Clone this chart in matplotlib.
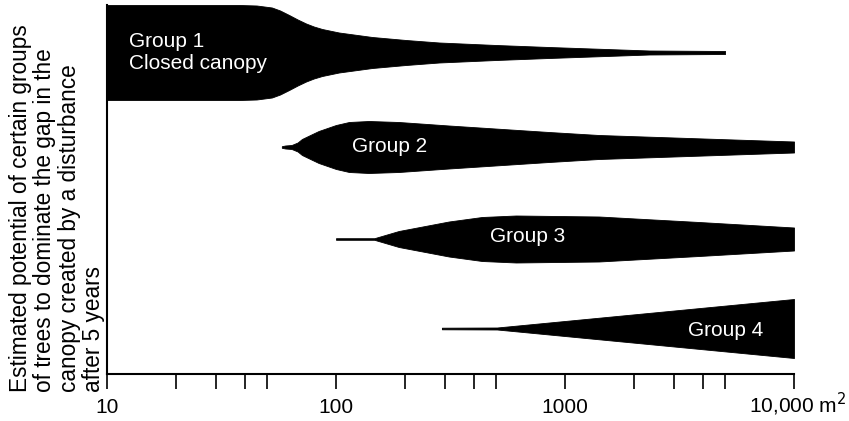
import numpy as np
import matplotlib
matplotlib.use("Agg")
import matplotlib.pyplot as plt
from matplotlib.ticker import FixedLocator, NullFormatter

plt.rcParams['font.family'] = ['Liberation Sans', 'DejaVu Sans']

# gap size (m2) and half-thickness of each band
g1_x = [10, 38, 45, 52.5, 57, 62.4, 68, 74, 80, 87, 103, 144, 202, 282, 500, 850, 2330, 5000]
g1_w = [47.5, 47.5, 47, 45, 42, 37.5, 33, 29, 26, 23.5, 20, 15.5, 12.5, 10, 7.5, 5.5, 2, 1.5]
g2_x = [58, 60, 64, 68, 71, 78, 84, 100, 114, 139, 188, 311, 851, 1406, 10000]
g2_w = [0.8, 1.5, 2, 4.5, 8, 12.5, 16, 22, 25, 26, 25, 21.5, 15, 12, 5.5]
g3_x = [100, 147, 188, 311, 434, 611, 1406, 3846, 10000]
g3_w = [0.8, 0.8, 8, 17.5, 22, 23.5, 22.5, 17, 11.5]
g4_x = [290, 505, 10000]
g4_w = [0.8, 1, 29.5]

centres = [321.5, 227, 135, 45.5]
labels = ["Group 1\nClosed canopy", "Group 2", "Group 3", "Group 4"]
label_x = [12.5, 172, 689, 5050]
label_y = [321, 227, 137, 44]

major_ticks = [10, 100, 1000, 10000]
major_labels = ["10", "100", "1000", ""]
minor_ticks = [20, 30, 40, 50, 200, 300, 400, 500, 2000, 3000, 4000, 5000]

fig = plt.figure(figsize=(8.49, 4.21), dpi=100)
ax = fig.add_axes([107 / 849, 47 / 421, 687 / 849, 369 / 421])

bands = [(g1_x, g1_w), (g2_x, g2_w), (g3_x, g3_w), (g4_x, g4_w)]
for (xs, ws), c in zip(bands, centres):
    xs = np.array(xs, dtype=float)
    ws = np.array(ws, dtype=float)
    ax.fill_between(xs, c - ws, c + ws, color='black', linewidth=0.6,
                    edgecolor='black')

for txt, tx, ty in zip(labels, label_x, label_y):
    ha = 'left' if txt.startswith("Group 1") else 'center'
    ax.text(tx, ty, txt, color='white', fontsize=15, ha=ha, va='center',
            linespacing=1.2)

ax.set_xscale('log')
ax.set_xlim(10, 10000)
ax.set_ylim(0, 369)

ax.xaxis.set_major_locator(FixedLocator(major_ticks))
ax.set_xticklabels(major_labels)
ax.xaxis.set_minor_locator(FixedLocator(minor_ticks))
ax.xaxis.set_minor_formatter(NullFormatter())
ax.tick_params(axis='x', which='both', direction='out', length=11, width=1.2,
               labelsize=15, pad=6)
ax.set_yticks([])

for s in ['top', 'right']:
    ax.spines[s].set_visible(False)
for s in ['left', 'bottom']:
    ax.spines[s].set_linewidth(1.5)

# last tick label, with its unit, sits a little left of the tick
fig.text(846 / 849, 8 / 421, "10,000 m$^2$", ha='right', va='baseline',
         fontsize=15)

fig.text(57 / 849, 29 / 421,
         "Estimated potential of certain groups\nof trees to dominate the gap in the\n"
         "canopy created by a disturbance\nafter 5 years",
         rotation=90, ha='center', va='bottom', multialignment='left',
         fontsize=16.3, linespacing=1.08)

fig.savefig("out.png", dpi=100)
